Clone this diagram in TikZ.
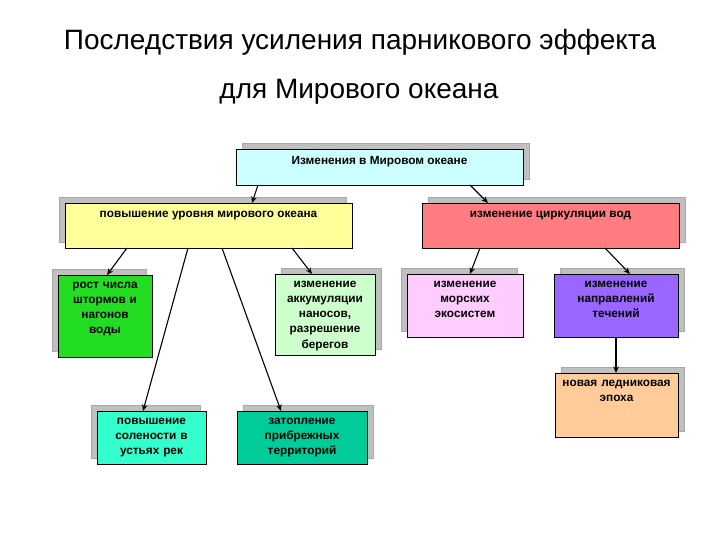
\documentclass[tikz,border=0pt]{standalone}
\usepackage{fontspec}
\setmainfont{Liberation Sans}
\usetikzlibrary{shadows,arrows.meta}
\definecolor{cA}{HTML}{CCFFFF}
\definecolor{cB}{HTML}{FFFF99}
\definecolor{cC}{HTML}{FF7C80}
\definecolor{cD}{HTML}{22DD22}
\definecolor{cE}{HTML}{CCFFCC}
\definecolor{cF}{HTML}{FFCCFF}
\definecolor{cG}{HTML}{9966FF}
\definecolor{cH}{HTML}{FFCC99}
\definecolor{cI}{HTML}{33FFCC}
\definecolor{cJ}{HTML}{00CC99}
\definecolor{shad}{HTML}{C0C0C0}
\definecolor{shadline}{HTML}{A8A8A8}
\begin{document}
\begin{tikzpicture}[x=1pt,y=-1pt,
  box/.style={draw=black, line width=0.9pt, inner sep=0pt, outer sep=0pt, anchor=north west},
  shR/.style={general shadow={shadow xshift=6pt, shadow yshift=6pt, fill=shad, draw=shadline, line width=0.6pt}},
  shL/.style={general shadow={shadow xshift=-6pt, shadow yshift=6pt, fill=shad, draw=shadline, line width=0.6pt}},
  lbl/.style={anchor=north, align=center, font=\fontsize{11.8}{15.3}\selectfont\bfseries, inner sep=0pt},
  ttl/.style={font=\fontsize{28}{34}\selectfont, inner sep=0pt},
  arr/.style={-{Stealth[length=6.5pt,width=5.5pt]}, line width=1.1pt}]
\useasboundingbox[fill=white] (0,0) rectangle (720,540);

\node[ttl] (t1) at (360,42) {Последствия усиления парникового эффекта};
\node[ttl] (t2) at (359,92) {для Мирового океана};

% boxes
\node[box, shR, fill=cA, minimum width=287pt, minimum height=36pt] (n1) at (236,149) {};
\node[box, shL, fill=cB, minimum width=287pt, minimum height=45pt] (n2) at (65,203) {};
\node[box, shR, fill=cC, minimum width=257pt, minimum height=45pt] (n3) at (422,203) {};
\node[box, shL, fill=cD, minimum width=94pt, minimum height=82pt] (n4) at (58,275) {};
\node[box, shR, fill=cE, minimum width=100pt, minimum height=81pt] (n5) at (275,274) {};
\node[box, shL, fill=cF, minimum width=116pt, minimum height=63pt] (n6) at (407,274) {};
\node[box, shR, fill=cG, minimum width=124pt, minimum height=63pt] (n7) at (554,274) {};
\node[box, shR, fill=cH, minimum width=123pt, minimum height=64pt] (n8) at (555,373) {};
\node[box, shL, fill=cI, minimum width=109pt, minimum height=53pt] (n9) at (97,411) {};
\node[box, shR, fill=cJ, minimum width=130pt, minimum height=53pt] (n10) at (237,411) {};

% labels
\node[lbl] (l1) at ([yshift=-7.5pt]n1.north) {Изменения в Мировом океане};
\node[lbl] (l2) at ([yshift=-7.5pt]n2.north) {повышение уровня мирового океана};
\node[lbl] (l3) at ([yshift=-7.5pt]n3.north) {изменение циркуляции вод};
\node[lbl, text width=92pt] (l4) at ([yshift=-6.5pt]n4.north) {рост числа\\штормов и\\нагонов\\воды};
\node[lbl, text width=98pt] (l5) at ([yshift=-6.5pt]n5.north) {изменение\\аккумуляции\\наносов,\\разрешение\\берегов};
\node[lbl, text width=114pt] (l6) at ([yshift=-6.5pt]n6.north) {изменение\\морских\\экосистем};
\node[lbl, text width=122pt] (l7) at ([yshift=-6.5pt]n7.north) {изменение\\направлений\\течений};
\node[lbl, text width=121pt] (l8) at ([yshift=-6.5pt]n8.north) {новая ледниковая\\эпоха};
\node[lbl, text width=107pt] (l9) at ([yshift=-6.5pt]n9.north) {повышение\\солености в\\устьях рек};
\node[lbl, text width=128pt] (l10) at ([yshift=-6.5pt]n10.north) {затопление\\прибрежных\\территорий};

% connectors
\draw[arr] ([xshift=22pt]n1.south west) -- ([xshift=187pt]n2.north west);
\draw[arr] ([xshift=234pt]n1.south west) -- ([xshift=66pt]n3.north west);
\draw[arr] ([xshift=62pt]n2.south west) -- ([xshift=49pt]n4.north west);
\draw[arr] ([xshift=123pt]n2.south west) -- ([xshift=46pt]n9.north west);
\draw[arr] ([xshift=157pt]n2.south west) -- ([xshift=44pt]n10.north west);
\draw[arr] ([xshift=227pt]n2.south west) -- ([xshift=37pt]n5.north west);
\draw[arr] ([xshift=58pt]n3.south west) -- ([xshift=63pt]n6.north west);
\draw[arr] ([xshift=183pt]n3.south west) -- ([xshift=76pt]n7.north west);
\draw[arr] ([xshift=62pt]n7.south west) -- ([xshift=61pt]n8.north west);
\end{tikzpicture}
\end{document}
